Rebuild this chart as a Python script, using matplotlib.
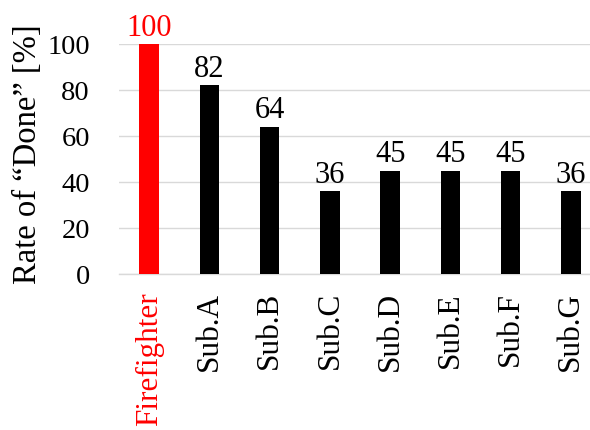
import matplotlib.pyplot as plt

names = ['Firefighter', 'Sub.A', 'Sub.B', 'Sub.C', 'Sub.D', 'Sub.E', 'Sub.F', 'Sub.G']
rates = [100, 82, 64, 36, 45, 45, 45, 36]
colors = ['#ff0000', 'black', 'black', 'black', 'black', 'black', 'black', 'black']

plt.rcParams['font.family'] = ['Liberation Serif', 'DejaVu Serif']

fig = plt.figure(figsize=(5.9, 4.3), dpi=100)
ax = fig.add_axes([119/590, 1-274/430, 482/590, 230/430])

x = range(len(names))
ax.bar(x, rates, width=0.32, color=colors, zorder=3)
for i, v in enumerate(rates):
  ax.annotate(str(v), (i, v), xytext=(0, 1), textcoords='offset points',
              ha='center', va='bottom', fontsize=22, color=colors[i])

ax.set_xlim(-0.5, 7.5)
ax.set_ylim(0, 100)
ax.set_yticks(range(0, 101, 20))
ax.grid(axis='y', color='#d9d9d9', linewidth=1, zorder=0)
for s in ['top', 'right', 'left']:
  ax.spines[s].set_visible(False)
ax.spines['bottom'].set_color('#d9d9d9')
ax.spines['bottom'].set_linewidth(1)
ax.tick_params(axis='both', length=0)
ax.tick_params(axis='y', labelsize=20.5, pad=21)
ax.set_xticks(list(x))
ax.set_xticklabels(names, rotation=90, fontsize=22.5)
ax.tick_params(axis='x', pad=13)
for lbl, c in zip(ax.get_xticklabels(), colors):
  lbl.set_color(c)

ax.set_ylabel('Rate of \u201cDone\u201d [%]', fontsize=23.5)
ax.yaxis.set_label_coords(-0.158, 0.52)

fig.savefig('out.png', dpi=100)
